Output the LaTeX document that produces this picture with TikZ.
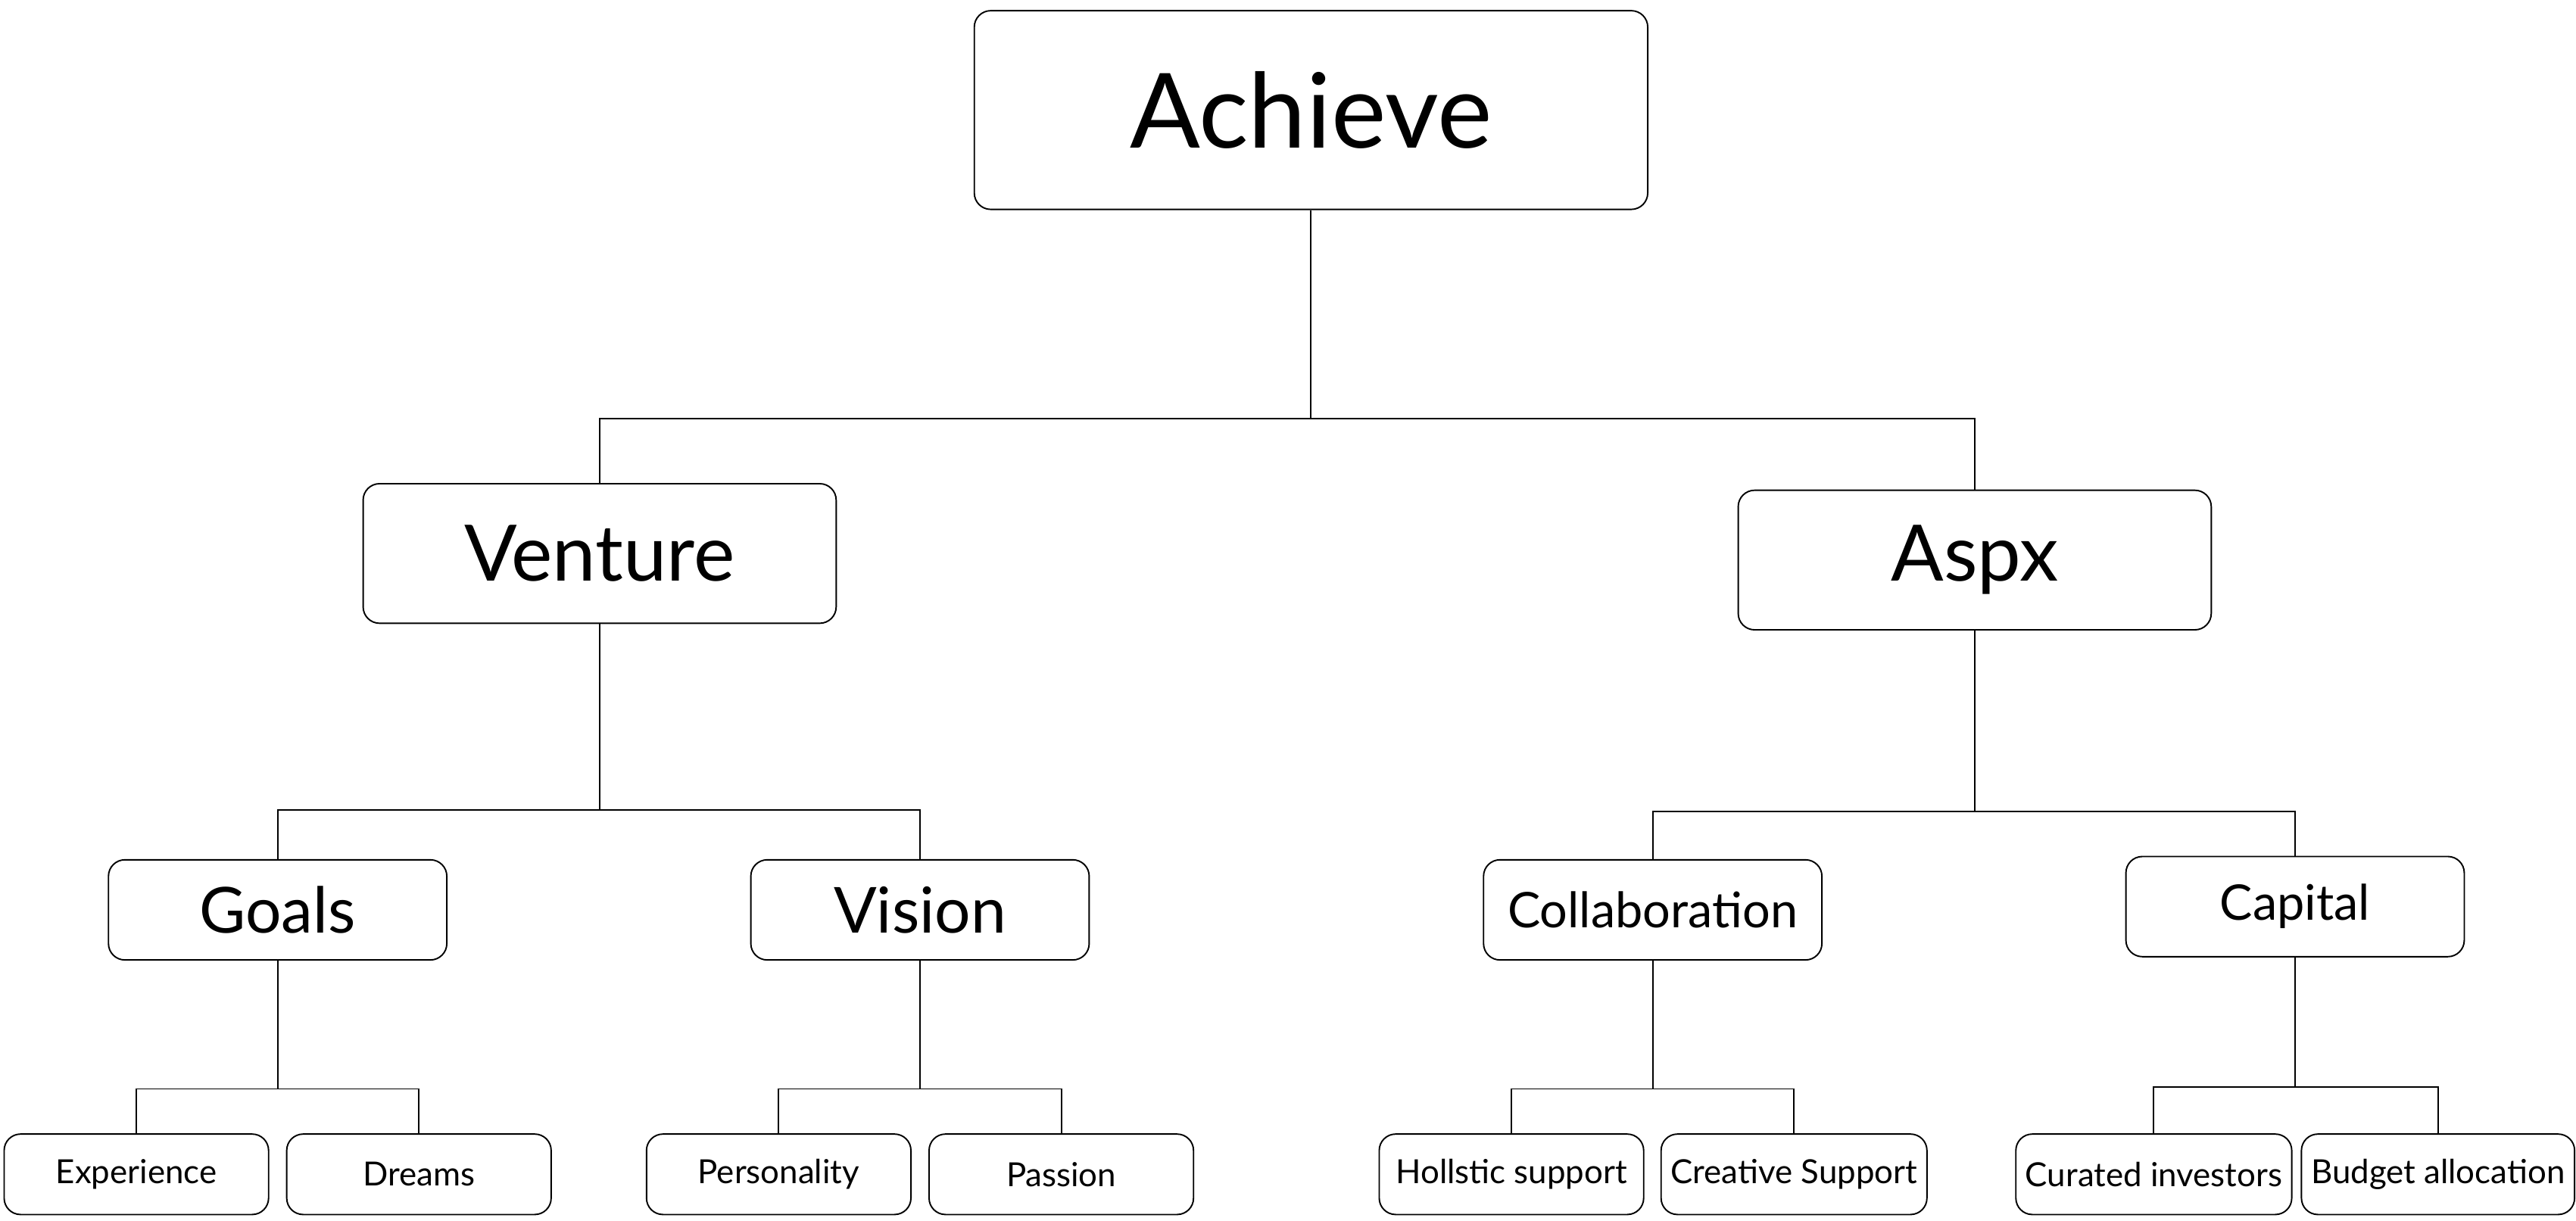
\documentclass[tikz,border=0pt]{standalone}
\usepackage{fontspec}
\setmainfont{Lato}
\usetikzlibrary{positioning}
\tikzset{
  box/.style={rectangle, rounded corners=0.2cm, draw=black, line width=0.5pt, text centered, fill=white},
  topbox/.style={box, minimum width=8.2cm, minimum height=2.42cm, font=\fontsize{36}{40}\selectfont},
  midbox/.style={box, minimum width=5.76cm, minimum height=1.7cm, font=\fontsize{27}{30}\selectfont},
  subbox/.style={box, minimum width=4.12cm, minimum height=1.22cm},
  leafbox/.style={box, minimum width=3.22cm, minimum height=0.98cm, font=\fontsize{11.5}{13}\selectfont},
  link/.style={draw=black, line width=0.5pt}
}
\begin{document}
\begin{tikzpicture}[x=0.02cm, y=-0.02cm]
\useasboundingbox (0,0) rectangle (1568,743);
% levels
\node (achieve) [topbox] at (798,67) {Achieve};
\node (venture) [midbox] at (365,337) {Venture};
\node (aspx) [midbox] at (1202,341) {Aspx};
\node (goals) [subbox, font=\fontsize{22}{26}\selectfont] at (169,554) {Goals};
\node (vision) [subbox, font=\fontsize{22}{26}\selectfont] at (560,554) {Vision};
\node (collab) [subbox, font=\fontsize{17}{20}\selectfont] at (1006,554) {Collaboration};
\node (capital) [subbox, font=\fontsize{17}{20}\selectfont] at (1397,552) {Capital};
\node (experience) [leafbox] at (83,715) {Experience};
\node (dreams) [leafbox] at (255,715) {Dreams};
\node (personality) [leafbox] at (474,715) {Personality};
\node (passion) [leafbox] at (646,715) {Passion};
\node (holistic) [leafbox] at (920,715) {Hollstic support};
\node (creative) [leafbox] at (1092,715) {Creative Support};
\node (curated) [leafbox] at (1311,715) {Curated investors};
\node (budget) [leafbox] at (1484,715) {Budget allocation};

% junctions
\coordinate (jtop) at (798,255);
\coordinate (jventure) at (365,493);
\coordinate (jaspx) at (1202,494);
\coordinate (jgoals) at (169,663);
\coordinate (jvision) at (560,663);
\coordinate (jcollab) at (1006,663);
\coordinate (jcapital) at (1397,662);

\draw [link] (achieve) -- (jtop);
\draw [link] (jtop) -| (venture);
\draw [link] (jtop) -| (aspx);
\draw [link] (venture) -- (jventure);
\draw [link] (jventure) -| (goals);
\draw [link] (jventure) -| (vision);
\draw [link] (aspx) -- (jaspx);
\draw [link] (jaspx) -| (collab);
\draw [link] (jaspx) -| (capital);
\draw [link] (goals) -- (jgoals);
\draw [link] (jgoals) -| (experience);
\draw [link] (jgoals) -| (dreams);
\draw [link] (vision) -- (jvision);
\draw [link] (jvision) -| (personality);
\draw [link] (jvision) -| (passion);
\draw [link] (collab) -- (jcollab);
\draw [link] (jcollab) -| (holistic);
\draw [link] (jcollab) -| (creative);
\draw [link] (capital) -- (jcapital);
\draw [link] (jcapital) -| (curated);
\draw [link] (jcapital) -| (budget);
\end{tikzpicture}
\end{document}
